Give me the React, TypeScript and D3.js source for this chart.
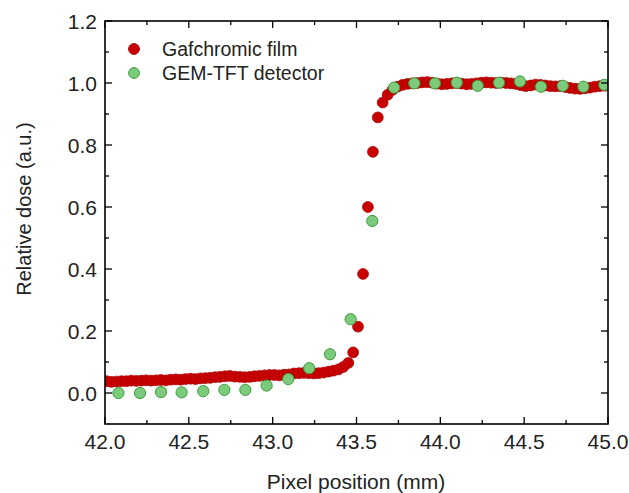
import React, { useEffect, useRef } from 'react'
import * as d3 from 'd3'

// film scan (red), one value per scanned pixel
const filmPos = [
  42.010, 42.039, 42.069, 42.098, 42.128, 42.157, 42.186, 42.216, 42.245, 42.275,
  42.304, 42.333, 42.363, 42.392, 42.422, 42.451, 42.480, 42.510, 42.539, 42.569,
  42.598, 42.627, 42.657, 42.686, 42.716, 42.745, 42.774, 42.804, 42.833, 42.863,
  42.892, 42.921, 42.951, 42.980, 43.010, 43.039, 43.068, 43.098, 43.127, 43.157,
  43.186, 43.215, 43.245, 43.274, 43.304, 43.333, 43.362, 43.392, 43.421, 43.451,
  43.480, 43.509, 43.539, 43.568, 43.598, 43.627, 43.656, 43.686, 43.715, 43.745,
  43.774, 43.804, 43.833, 43.862, 43.892, 43.921, 43.951, 43.980, 44.009, 44.039,
  44.068, 44.098, 44.127, 44.157, 44.186, 44.215, 44.245, 44.274, 44.304, 44.333,
  44.362, 44.392, 44.421, 44.451, 44.480, 44.509, 44.539, 44.568, 44.598, 44.627,
  44.656, 44.686, 44.715, 44.745, 44.774, 44.804, 44.833, 44.862, 44.892, 44.921,
  44.951, 44.980,
]
const filmDose = [
  0.038, 0.036, 0.037, 0.038, 0.038, 0.040, 0.039, 0.040, 0.041, 0.040,
  0.041, 0.042, 0.041, 0.043, 0.044, 0.043, 0.045, 0.046, 0.045, 0.047,
  0.048, 0.049, 0.051, 0.052, 0.054, 0.055, 0.053, 0.052, 0.051, 0.052,
  0.054, 0.055, 0.057, 0.058, 0.058, 0.057, 0.059, 0.060, 0.063, 0.064,
  0.065, 0.064, 0.063, 0.064, 0.066, 0.069, 0.072, 0.076, 0.084, 0.097,
  0.131, 0.214, 0.384, 0.600, 0.778, 0.889, 0.937, 0.962, 0.978, 0.988,
  0.994, 0.997, 0.999, 1.000, 1.002, 1.003, 1.001, 0.998, 0.996, 0.997,
  0.999, 1.000, 0.998, 0.996, 0.997, 0.999, 1.001, 1.002, 1.001, 1.000,
  1.001, 1.000, 0.999, 0.997, 0.993, 0.990, 0.992, 0.995, 0.994, 0.992,
  0.990, 0.989, 0.990, 0.987, 0.984, 0.982, 0.981, 0.983, 0.985, 0.988,
  0.990, 0.991,
]

// detector (green)
const detPos = [
  42.080, 42.209, 42.334, 42.457, 42.586, 42.712, 42.837, 42.964, 43.093, 43.218,
  43.342, 43.465, 43.594, 43.724, 43.845, 43.968, 44.098, 44.223, 44.350, 44.475,
  44.600, 44.730, 44.853, 44.978,
]
const detDose = [
  0.000, 0.000, 0.003, 0.002, 0.006, 0.010, 0.010, 0.024, 0.045, 0.080,
  0.125, 0.238, 0.555, 0.985, 0.999, 0.999, 1.001, 0.991, 1.001, 1.005,
  0.988, 0.991, 0.988, 0.994,
]

const xTicks = [42.0, 42.5, 43.0, 43.5, 44.0, 44.5, 45.0]
const xMinor = [42.25, 42.75, 43.25, 43.75, 44.25, 44.75]
const yTicks = [0.0, 0.2, 0.4, 0.6, 0.8, 1.0, 1.2]
const yMinor = [0.1, 0.3, 0.5, 0.7, 0.9, 1.1]

const seriesNames = ['Gafchromic film', 'GEM-TFT detector']

const W = 629
const H = 493
const m = { left: 105, right: 608, top: 21, bottom: 424 }

const RED = '#c80000'
const RED_EDGE = '#a80000'
const GREEN = '#7ccb7c'
const GREEN_EDGE = '#3e9e3e'
const FONT = '"Liberation Sans", Arial, sans-serif'

export default function App() {
  const ref = useRef<SVGSVGElement>(null)

  useEffect(() => {
    const svg = d3.select(ref.current)
    svg.selectAll('*').remove()

    const x = d3.scaleLinear().domain([42, 45]).range([m.left, m.right])
    const y = d3.scaleLinear().domain([-0.1, 1.2]).range([m.bottom, m.top])

    svg.append('defs').append('clipPath').attr('id', 'plotclip')
      .append('rect')
      .attr('x', m.left).attr('y', m.top)
      .attr('width', m.right - m.left).attr('height', m.bottom - m.top)

    const g = svg.append('g').attr('clip-path', 'url(#plotclip)')

    // film points
    g.selectAll('.film')
      .data(filmPos.map((p, i) => [p, filmDose[i]]))
      .enter()
      .append('circle')
      .attr('cx', d => x(d[0]))
      .attr('cy', d => y(d[1]))
      .attr('r', 5.4)
      .style('fill', RED)
      .style('stroke', RED_EDGE)
      .style('stroke-width', 0.8)

    // detector points
    g.selectAll('.det')
      .data(detPos.map((p, i) => [p, detDose[i]]))
      .enter()
      .append('circle')
      .attr('cx', d => x(d[0]))
      .attr('cy', d => y(d[1]))
      .attr('r', 5.6)
      .style('fill', GREEN)
      .style('stroke', GREEN_EDGE)
      .style('stroke-width', 1)

    // frame
    svg.append('rect')
      .attr('x', m.left).attr('y', m.top)
      .attr('width', m.right - m.left).attr('height', m.bottom - m.top)
      .style('fill', 'none').style('stroke', '#000').style('stroke-width', 1.6)

    const ticks = svg.append('g').style('stroke', '#000').style('stroke-width', 1.3)
    const xt = (v: number, len: number) => {
      ticks.append('line').attr('x1', x(v)).attr('x2', x(v)).attr('y1', m.bottom).attr('y2', m.bottom - len)
      ticks.append('line').attr('x1', x(v)).attr('x2', x(v)).attr('y1', m.top).attr('y2', m.top + len)
    }
    const yt = (v: number, len: number) => {
      ticks.append('line').attr('y1', y(v)).attr('y2', y(v)).attr('x1', m.left).attr('x2', m.left + len)
      ticks.append('line').attr('y1', y(v)).attr('y2', y(v)).attr('x1', m.right).attr('x2', m.right - len)
    }
    xTicks.forEach(v => xt(v, 7))
    xMinor.forEach(v => xt(v, 4))
    yTicks.forEach(v => yt(v, 7))
    yMinor.forEach(v => yt(v, 4))

    // tick labels
    svg.append('g').selectAll('text')
      .data(xTicks).enter().append('text')
      .attr('x', d => x(d)).attr('y', 449)
      .attr('text-anchor', 'middle')
      .style('font-family', FONT).style('font-size', '21px').style('fill', '#222')
      .text(d => d.toFixed(1))

    svg.append('g').selectAll('text')
      .data(yTicks).enter().append('text')
      .attr('x', 97).attr('y', d => y(d))
      .attr('dy', '0.36em')
      .attr('text-anchor', 'end')
      .style('font-family', FONT).style('font-size', '21px').style('fill', '#222')
      .text(d => d.toFixed(1))

    // axis titles
    svg.append('text')
      .attr('x', 356).attr('y', 489)
      .attr('text-anchor', 'middle')
      .style('font-family', FONT).style('font-size', '21px').style('fill', '#222')
      .text('Pixel position (mm)')

    svg.append('text')
      .attr('transform', 'translate(31,209) rotate(-90)')
      .attr('text-anchor', 'middle')
      .style('font-family', FONT).style('font-size', '20px').style('fill', '#222')
      .text('Relative dose (a.u.)')

    // legend
    const leg = svg.append('g')
    ;[[RED, RED_EDGE], [GREEN, GREEN_EDGE]].forEach((c, i) => {
      leg.append('circle')
        .attr('cx', 134).attr('cy', 49 + i * 24).attr('r', 5.4)
        .style('fill', c[0]).style('stroke', c[1]).style('stroke-width', 1)
      leg.append('text')
        .attr('x', 162).attr('y', 49 + i * 24).attr('dy', '0.36em')
        .style('font-family', FONT).style('font-size', '19.5px').style('fill', '#222')
        .text(seriesNames[i])
    })
  }, [])

  return (
    <svg
      ref={ref}
      width={W}
      height={H}
      style={{ position: 'absolute', left: 0, top: 0, background: '#fff' }}
    />
  )
}
